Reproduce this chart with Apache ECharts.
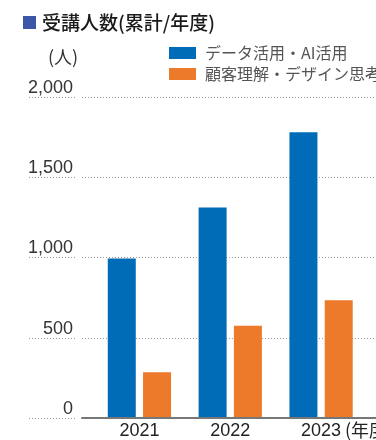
<!DOCTYPE html>
<html>
<head>
<meta charset="utf-8">
<script src="https://cdn.jsdelivr.net/npm/echarts@6/dist/echarts.min.js"></script>
<style>
html,body{margin:0;padding:0;background:#fff;}
#chart{width:376px;height:440px;}
</style>
</head>
<body>
<div id="chart"></div>
<script>
const categories = ['2021', '2022', '2023'];
const seriesNames = ['データ活用・AI活用', '顧客理解・デザイン思考'];
const dataAI = [990, 1310, 1780];
const dataDesign = [280, 570, 730];
const yMin = 0, yMax = 2000, yStep = 500;
const titleText = '受講人数(累計/年度)';
const unitText = '(人)';
const yearUnitText = '(年度';

const BLUE = '#006cb7';
const ORANGE = '#ed792b';
const CJK = '"Noto Sans CJK JP", sans-serif';
const NUM = '"Liberation Sans", Arial, sans-serif';

const chart = echarts.init(document.getElementById('chart'), null, {renderer: 'canvas'});

const TOP = 97, BOTTOM = 22;
const dotted = {color: '#9a9a9a', width: 1, type: [1, 2]};

const option = {
  animation: false,
  backgroundColor: '#fff',
  grid: [
    {left: 29, width: 47, top: TOP, bottom: BOTTOM},
    {left: 82, right: 0, top: TOP, bottom: BOTTOM},
    {left: 94, right: 9.5, top: TOP, bottom: BOTTOM}
  ],
  legend: {
    orient: 'vertical', left: 169, top: 45, padding: 0,
    itemWidth: 27, itemHeight: 12, itemGap: 5, icon: 'rect',
    textStyle: {fontSize: 16, color: '#555', fontFamily: CJK, padding: [0, 0, 0, 4]},
    data: seriesNames
  },
  xAxis: [
    {gridIndex: 0, type: 'value', show: false},
    {gridIndex: 1, type: 'category', data: categories,
     axisLine: {show: true, lineStyle: {color: '#777', width: 2}},
     axisTick: {show: false}, axisLabel: {show: false}},
    {gridIndex: 2, type: 'category', data: categories,
     axisLine: {show: false}, axisTick: {show: false},
     axisLabel: {fontSize: 18, color: '#222', fontFamily: NUM, margin: 5}}
  ],
  yAxis: [
    {gridIndex: 0, type: 'value', position: 'right', min: yMin, max: yMax, interval: yStep,
     axisLine: {show: false}, axisTick: {show: false},
     splitLine: {show: true, lineStyle: dotted},
     axisLabel: {inside: true, margin: 3, verticalAlign: 'bottom', fontSize: 18, color: '#333', fontFamily: NUM,
       formatter: v => v.toLocaleString('en-US')}},
    {gridIndex: 1, type: 'value', min: yMin, max: yMax, interval: yStep,
     axisLine: {show: false}, axisTick: {show: false}, axisLabel: {show: false},
     splitLine: {show: true, lineStyle: dotted}},
    {gridIndex: 2, type: 'value', min: yMin, max: yMax, interval: yStep, show: false,
     splitLine: {show: false}}
  ],
  series: [
    {name: seriesNames[0], type: 'bar', xAxisIndex: 2, yAxisIndex: 2, data: dataAI,
     barWidth: 28, barGap: '26%', itemStyle: {color: BLUE}},
    {name: seriesNames[1], type: 'bar', xAxisIndex: 2, yAxisIndex: 2, data: dataDesign,
     barWidth: 28, barGap: '26%', itemStyle: {color: ORANGE}}
  ],
  graphic: [
    {type: 'rect', left: 23, top: 16, shape: {width: 13, height: 13}, style: {fill: '#3d55a6'}},
    {type: 'text', left: 42, top: 13, style: {text: titleText, fill: '#1a1a1a', font: '500 19px "Noto Sans CJK JP"'}},
    {type: 'text', left: 48, top: 48, style: {text: unitText, fontSize: 18, fill: '#333', fontFamily: CJK}},
    {type: 'text', left: 345, top: 421, style: {text: yearUnitText, fontSize: 18, fill: '#222', fontFamily: CJK}}
  ]
};
chart.setOption(option);
</script>
</body>
</html>
